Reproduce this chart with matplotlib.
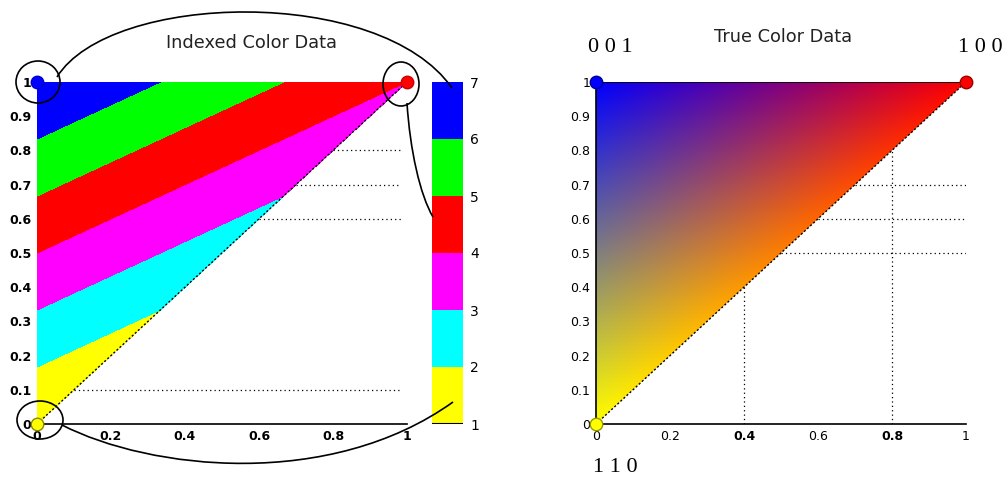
import numpy as np
import matplotlib
matplotlib.use("Agg")
from matplotlib import pyplot as plt
from matplotlib.tri import Triangulation
from matplotlib.patches import Polygon, Ellipse, PathPatch
from matplotlib.path import Path

# triangle vertices (bottom-left, top-left, top-right)
vx = [0, 0, 1]
vy = [0, 1, 1]
# indexed colour data at each vertex
c_index = [1, 7, 4]
# true colour data at each vertex (RGB)
c_true = [[1, 1, 0], [0, 0, 1], [1, 0, 0]]
true_labels = ["1 1 0", "0 0 1", "1 0 0"]

# colormap used for indexed data
cmap_colors = ["#ffff00", "#00ffff", "#ff00ff", "#ff0000", "#00ff00", "#0000ff"]
cbar_levels = [1, 2, 3, 4, 5, 6, 7]

# dotted helper lines
left_hlines = [0.1, 0.6, 0.7, 0.8]
right_hlines = [0.5, 0.6, 0.7]
right_vlines = [0.4, 0.8]

xticks = [0, 0.2, 0.4, 0.6, 0.8, 1]
yticks = [0, 0.1, 0.2, 0.3, 0.4, 0.5, 0.6, 0.7, 0.8, 0.9, 1]

W, H = 1007, 480
fig = plt.figure(figsize=(W / 100, H / 100), dpi=100)


def fx(px):
    return px / W


def fy(py):
    return 1 - py / H


def tick_fmt(v):
    return "0" if v == 0 else ("1" if v == 1 else f"{v:g}")


def setup_axes(ax, bold):
    ax.set_xlim(0, 1)
    ax.set_ylim(0, 1)
    for s in ["top", "right", "left"]:
        ax.spines[s].set_visible(False)
    ax.spines["bottom"].set_linewidth(1.2)
    ax.set_xticks(xticks)
    ax.set_yticks(yticks)
    ax.set_xticklabels([tick_fmt(v) for v in xticks])
    ax.set_yticklabels([tick_fmt(v) for v in yticks])
    ax.tick_params(length=0, labelsize=9, pad=4)
    for lab in ax.get_xticklabels() + ax.get_yticklabels():
        lab.set_fontweight("bold" if bold else "normal")
    ax.patch.set_visible(False)


tri = Triangulation(vx, vy, [[0, 1, 2]])

# ---------------- left: indexed colour ----------------
axL = fig.add_axes([fx(37), fy(424), fx(370), 342 / H])
setup_axes(axL, True)
cf = axL.tricontourf(tri, c_index, levels=cbar_levels, colors=cmap_colors, antialiased=False)
axL.plot([0, 1], [0, 1], color="black", ls=(0, (1.5, 1.5)), lw=1)
for yv in left_hlines:
    axL.plot([yv, 0.985], [yv, yv], color="black", ls=(0, (1, 2.5)), lw=0.9)
axL.plot(vx[1], vy[1], "o", ms=9, color="#0000ff", mec="#0000cc", clip_on=False, zorder=5)
axL.plot(vx[2], vy[2], "o", ms=9, color="#ff0000", mec="#cc0000", clip_on=False, zorder=5)
axL.plot(vx[0], vy[0], "o", ms=9, color="#ffff00", mec="#888800", clip_on=False, zorder=5)

cax = fig.add_axes([fx(432), fy(424), fx(31), 342 / H])
cb = fig.colorbar(cf, cax=cax, ticks=cbar_levels)
cb.outline.set_visible(False)
cax.tick_params(length=0, labelsize=10, pad=5)
cax.axhline(1, color="black", lw=1.5)

fig.text(fx(252), fy(43), "Indexed Color Data", ha="center", va="center",
         fontsize=12.8, family="DejaVu Sans", color="#222222")

# ---------------- right: true colour ----------------
axR = fig.add_axes([fx(596), fy(424), fx(370), 342 / H])
setup_axes(axR, False)
axR.spines["left"].set_visible(True)
axR.spines["left"].set_linewidth(1.2)

n = 400
gx, gy = np.meshgrid(np.linspace(0, 1, n), np.linspace(0, 1, n))
T = np.array([[vx[1] - vx[0], vx[2] - vx[0]], [vy[1] - vy[0], vy[2] - vy[0]]])
Ti = np.linalg.inv(T)
dx, dy = gx - vx[0], gy - vy[0]
w1 = Ti[0, 0] * dx + Ti[0, 1] * dy
w2 = Ti[1, 0] * dx + Ti[1, 1] * dy
w0 = 1 - w1 - w2
cols = np.array(c_true, dtype=float)
img = (w0[..., None] * cols[0] + w1[..., None] * cols[1] + w2[..., None] * cols[2]).clip(0, 1)
im = axR.imshow(img, origin="lower", extent=[0, 1, 0, 1], interpolation="bilinear", aspect="auto")
clip = Polygon(np.column_stack([vx, vy]), closed=True, transform=axR.transData)
im.set_clip_path(clip)

axR.plot([vx[1], vx[2]], [vy[1], vy[2]], color="black", lw=1.2)
axR.plot([0, 1], [0, 1], color="black", ls=(0, (1.5, 1.5)), lw=1)
for yv in right_hlines:
    axR.plot([yv, 1], [yv, yv], color="black", ls=(0, (1, 2.5)), lw=0.9)
for xv in right_vlines:
    axR.plot([xv, xv], [0, xv], color="black", ls=(0, (1, 2.5)), lw=0.9)
for i in range(3):
    axR.plot(vx[i], vy[i], "o", ms=9, color=cols[i], mec=cols[i] * 0.6, clip_on=False, zorder=5)
for lab in axR.get_xticklabels():
    if lab.get_text() in ("0.4", "0.8"):
        lab.set_fontweight("bold")

fig.text(fx(783), fy(37), "True Color Data", ha="center", va="center",
         fontsize=12.8, family="DejaVu Sans", color="#222222")
fig.text(fx(610), fy(48), true_labels[1], ha="center", va="center", fontsize=16, family="Liberation Serif")
fig.text(fx(980), fy(48), true_labels[2], ha="center", va="center", fontsize=16, family="Liberation Serif")
fig.text(fx(615), fy(468), true_labels[0], ha="center", va="center", fontsize=16, family="Liberation Serif")

# ---------------- annotation circles and connectors (figure pixels) ----------------
def fig_pt(p):
    return (fx(p[0]), fy(p[1]))


for cx, cy, rx, ry in [(38, 82, 22, 21), (401, 84, 18, 22), (40, 420, 23, 19)]:
    fig.patches.append(Ellipse(fig_pt((cx, cy)), 2 * rx / W, 2 * ry / H, fill=False,
                               ec="black", lw=1.2, transform=fig.transFigure))

curves = [
    [(57, 77), (110, -8), (380, -15), (452, 88)],
    [(407, 103), (410, 150), (420, 195), (433, 217)],
    [(62, 425), (150, 470), (330, 490), (453, 402)],
]
for pts in curves:
    path = Path([fig_pt(p) for p in pts], [Path.MOVETO, Path.CURVE4, Path.CURVE4, Path.CURVE4])
    fig.patches.append(PathPatch(path, fill=False, ec="black", lw=1.2, transform=fig.transFigure))

fig.savefig("out.png", dpi=100)
